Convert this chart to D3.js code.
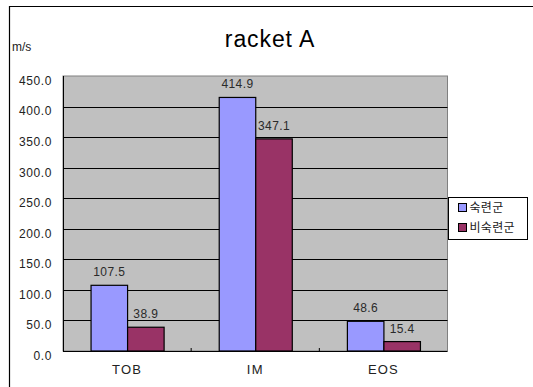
<!DOCTYPE html>
<html>
<head>
<meta charset="utf-8">
<script src="https://cdn.jsdelivr.net/npm/d3@7"></script>
<style>
  html, body { margin: 0; padding: 0; background: #fff; }
  svg { display: block; }
  text { font-family: "Liberation Sans", Arial, "Noto Sans CJK KR", sans-serif; }
</style>
</head>
<body>
<svg id="chart" width="533" height="387"></svg>
<script>
// Swing speed per phase, two groups
const categories = ["TOB", "IM", "EOS"];
const seriesNames = ["숙련군", "비숙련군"];
const skilled = [107.5, 414.9, 48.6];
const unskilled = [38.9, 347.1, 15.4];
const yTicks = [0, 50, 100, 150, 200, 250, 300, 350, 400, 450];
const colors = ["#9999FF", "#993366"];

const svg = d3.select("#chart");
const W = 533, H = 387;
const plot = { left: 63, right: 447.5, top: 76, bottom: 351 };

// outer chart frame (top and left edges)
svg.append("path")
  .attr("d", `M9.5,${H} V6.5 H${W}`)
  .attr("fill", "none").attr("stroke", "#000").attr("stroke-width", 1.2);

// title
svg.append("text")
  .attr("x", 270).attr("y", 47)
  .attr("text-anchor", "middle")
  .attr("font-size", 23).attr("letter-spacing", 0.9)
  .attr("fill", "#000")
  .text("racket A");

// unit label
svg.append("text")
  .attr("x", 12).attr("y", 51)
  .attr("font-size", 12).attr("fill", "#222")
  .text("m/s");

const x = d3.scaleBand().domain(categories)
  .range([plot.left, plot.right]).paddingInner(0.43).paddingOuter(0.215);
const xs = d3.scaleBand().domain(seriesNames).range([0, x.bandwidth()]);
const y = d3.scaleLinear().domain([0, 450]).range([plot.bottom, plot.top]);

// plot background
svg.append("rect")
  .attr("x", plot.left).attr("y", plot.top)
  .attr("width", plot.right - plot.left).attr("height", plot.bottom - plot.top)
  .attr("fill", "#C0C0C0").attr("stroke", "#808080").attr("stroke-width", 1);

// gridlines
svg.append("g").selectAll("line")
  .data(yTicks.filter(t => t > 0 && t < 450))
  .join("line")
  .attr("x1", plot.left).attr("x2", plot.right)
  .attr("y1", d => Math.round(y(d)) + 0.5).attr("y2", d => Math.round(y(d)) + 0.5)
  .attr("stroke", "#000").attr("stroke-width", 1);

// y axis labels
const yAxis = svg.append("g")
  .attr("transform", `translate(${plot.left},0)`)
  .call(d3.axisLeft(y).tickValues(yTicks).tickFormat(d3.format(".1f")).tickSize(0).tickPadding(11));
yAxis.select(".domain").remove();
yAxis.selectAll("text")
  .attr("font-size", 12).attr("fill", "#222").attr("letter-spacing", 0.6)
  .attr("dy", "0.7em");

// bars
const rows = categories.map((c, i) => ({ cat: c, vals: [skilled[i], unskilled[i]] }));
const groups = svg.append("g").selectAll("g")
  .data(rows).join("g")
  .attr("transform", d => `translate(${x(d.cat)},0)`);

groups.selectAll("rect")
  .data(d => d.vals.map((v, k) => ({ name: seriesNames[k], v, k })))
  .join("rect")
  .attr("x", d => xs(d.name) + 0.5)
  .attr("y", d => y(d.v))
  .attr("width", xs.bandwidth())
  .attr("height", d => y(0) - y(d.v))
  .attr("fill", d => colors[d.k])
  .attr("stroke", "#000").attr("stroke-width", 1.2);

// value labels
groups.selectAll("text")
  .data(d => d.vals.map((v, k) => ({ name: seriesNames[k], v, k })))
  .join("text")
  .attr("x", d => xs(d.name) + xs.bandwidth() / 2 + 0.5)
  .attr("y", d => y(d.v) - 9)
  .attr("text-anchor", "middle")
  .attr("font-size", 12).attr("fill", "#2a2a2a").attr("letter-spacing", 0.4)
  .text(d => d3.format(".1f")(d.v));

// left and bottom axis lines
svg.append("line")
  .attr("x1", plot.left + 0.5).attr("x2", plot.left + 0.5)
  .attr("y1", plot.top).attr("y2", plot.bottom)
  .attr("stroke", "#000");
svg.append("line")
  .attr("x1", plot.left).attr("x2", plot.right)
  .attr("y1", plot.bottom + 0.5).attr("y2", plot.bottom + 0.5)
  .attr("stroke", "#000").attr("stroke-width", 1.2);

// category boundary ticks
const step = x.step();
svg.append("g").selectAll("line")
  .data(categories.slice(1))
  .join("line")
  .attr("x1", d => x(d) - x.paddingInner() * step / 2)
  .attr("x2", d => x(d) - x.paddingInner() * step / 2)
  .attr("y1", plot.bottom - 3).attr("y2", plot.bottom)
  .attr("stroke", "#000");

// x axis labels
const xAxis = svg.append("g")
  .attr("transform", `translate(0,${plot.bottom})`)
  .call(d3.axisBottom(x).tickSize(0).tickPadding(14));
xAxis.select(".domain").remove();
xAxis.selectAll("text")
  .attr("font-size", 13).attr("fill", "#222").attr("letter-spacing", 1.2);

// legend
const legend = svg.append("g").attr("transform", "translate(448.5,197.5)");
legend.append("rect")
  .attr("width", 79).attr("height", 42)
  .attr("fill", "#fff").attr("stroke", "#000");
const items = legend.selectAll("g.item")
  .data(seriesNames).join("g").attr("class", "item")
  .attr("transform", (d, i) => `translate(10,${6 + i * 20})`);
items.append("rect")
  .attr("width", 8).attr("height", 8)
  .attr("fill", (d, i) => colors[i])
  .attr("stroke", "#000");
items.append("text")
  .attr("x", 11).attr("y", 4)
  .attr("dy", "0.36em")
  .attr("font-size", 12).attr("letter-spacing", 0.3)
  .attr("font-family", "'Noto Sans CJK KR', sans-serif")
  .attr("fill", "#222")
  .text(d => d);
</script>
</body>
</html>
